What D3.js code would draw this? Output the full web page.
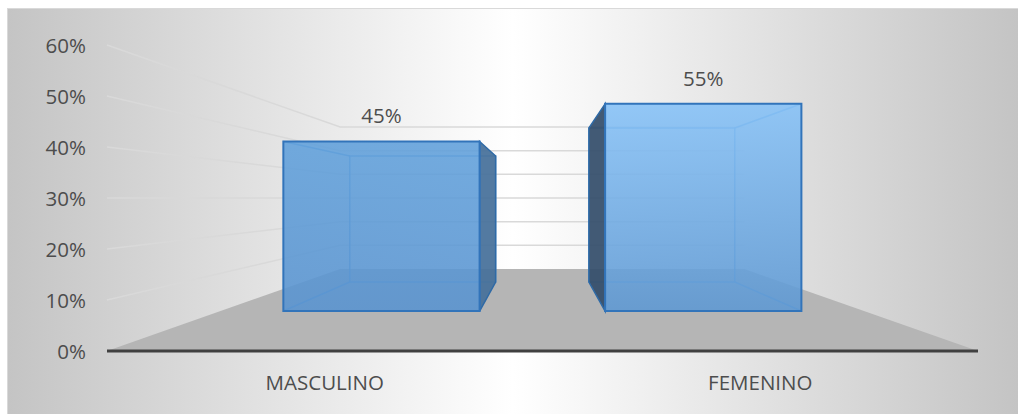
<!DOCTYPE html>
<html>
<head>
<meta charset="utf-8">
<script src="https://cdn.jsdelivr.net/npm/d3@7"></script>
<style>
  html, body { margin: 0; padding: 0; background: #ffffff; }
  svg { display: block; }
  text { font-family: "Open Sans", "Noto Sans", sans-serif; fill: #4d4d4d; }
</style>
</head>
<body>
<svg id="chart" width="1018" height="414"></svg>
<script>
// Data
const categories = ["MASCULINO", "FEMENINO"];
const values = [0.45, 0.55];
const valueLabels = ["45%", "55%"];
const tickValues = [0, 0.1, 0.2, 0.3, 0.4, 0.5, 0.6];
const tickLabels = ["0%", "10%", "20%", "30%", "40%", "50%", "60%"];

const W = 1018, H = 414;
const svg = d3.select("#chart");
const defs = svg.append("defs");

// Chart area background: soft grey edges, white centre
const bg = defs.append("linearGradient").attr("id", "bgGrad")
  .attr("gradientUnits", "userSpaceOnUse")
  .attr("x1", 7).attr("y1", 0).attr("x2", W).attr("y2", 0);
bg.append("stop").attr("offset", 0).attr("stop-color", "#c4c4c4");
bg.append("stop").attr("offset", 0.5).attr("stop-color", "#ffffff");
bg.append("stop").attr("offset", 1).attr("stop-color", "#c4c4c4");

svg.append("rect")
  .attr("x", 7.5).attr("y", 8.5).attr("width", W).attr("height", H)
  .attr("fill", "url(#bgGrad)")
  .attr("stroke", "#d9d9d9").attr("stroke-width", 1);

// Front-plane scales
const x = d3.scaleBand().domain(categories).range([107, 978])
  .paddingInner(0.39).paddingOuter(0.195);
const y = d3.scaleLinear().domain([0, 0.6]).range([351, 45]);

// Perspective projection: z = 0 front of floor, z = 1 back wall
const vx = 542, vy = y(0.3), depthK = 1.155;
function proj(X, Y, z) {
  const s = 1 / (1 + depthK * z);
  return [vx + (X - vx) * s, vy + (Y - vy) * s];
}
const X0 = x.range()[0], X1 = x.range()[1];
const line = d3.line();

// Floor
svg.append("path")
  .attr("d", line([proj(X0, y(0), 0), proj(X0, y(0), 1), proj(X1, y(0), 1), proj(X1, y(0), 0)]) + "Z")
  .attr("fill", "#b5b5b5");

// Gridlines on left wall and back wall
const grid = svg.append("g").attr("fill", "none").attr("stroke", "#d9d9d9").attr("stroke-width", 1.5);
tickValues.filter(t => t > 0).forEach(t => {
  grid.append("path").attr("d", line([proj(X0, y(t), 0), proj(X0, y(t), 1), proj(X1, y(t), 1)]));
});

// Bar shading, one gradient per bar
const barShades = [
  { top: "#60a0db", bottom: "#5893d0" },
  { top: "#85c1f7", bottom: "#5d98d3" }
];
barShades.forEach((c, i) => {
  const g = defs.append("linearGradient").attr("id", "barGrad" + i)
    .attr("x1", 0).attr("y1", 0).attr("x2", 0).attr("y2", 1);
  g.append("stop").attr("offset", 0).attr("stop-color", c.top);
  g.append("stop").attr("offset", 1).attr("stop-color", c.bottom);
});

const zFront = 0.306, zBack = 0.711;
const bars = svg.append("g");
categories.forEach((cat, i) => {
  const L = x(cat), R = x(cat) + x.bandwidth();
  const T = y(values[i]), B = y(0);
  const f = { lt: proj(L, T, zFront), rt: proj(R, T, zFront), rb: proj(R, B, zFront), lb: proj(L, B, zFront) };
  const b = { lt: proj(L, T, zBack), rt: proj(R, T, zBack), rb: proj(R, B, zBack), lb: proj(L, B, zBack) };
  const g = bars.append("g");

  // Back face and hidden connecting edges, seen through the glass
  const inner = g.append("g").attr("fill", "none").attr("stroke", "#5a9ad8").attr("stroke-width", 1.5).attr("stroke-opacity", 0.8);
  inner.append("path").attr("d", line([b.lt, b.rt, b.rb, b.lb]) + "Z");
  const rightVisible = R < vx;
  if (rightVisible) {
    inner.append("path").attr("d", line([f.lt, b.lt]));
    inner.append("path").attr("d", line([f.lb, b.lb]));
  } else {
    inner.append("path").attr("d", line([f.rt, b.rt]));
    inner.append("path").attr("d", line([f.rb, b.rb]));
  }

  // Visible side face
  const side = rightVisible ? [f.rt, b.rt, b.rb, f.rb] : [f.lt, b.lt, b.lb, f.lb];
  g.append("path").attr("d", line(side) + "Z")
    .attr("fill", rightVisible ? "#46709a" : "#344e6b")
    .attr("fill-opacity", 0.93)
    .attr("stroke", "#2f6aa6").attr("stroke-width", 1.5);

  // Front face
  g.append("path").attr("d", line([f.lt, f.rt, f.rb, f.lb]) + "Z")
    .attr("fill", "url(#barGrad" + i + ")")
    .attr("fill-opacity", 0.88)
    .attr("stroke", "#3274ba").attr("stroke-width", 2);

  // Value label
  svg.append("text")
    .attr("x", (f.lt[0] + f.rt[0]) / 2).attr("y", f.lt[1] - 18)
    .attr("text-anchor", "middle").attr("font-size", 20.5)
    .text(valueLabels[i]);
});

// Category axis line
svg.append("path")
  .attr("d", line([[X0, y(0)], [X1, y(0)]]))
  .attr("stroke", "#404040").attr("stroke-width", 3);

// Value axis labels
svg.append("g").selectAll("text").data(tickValues).join("text")
  .attr("x", 86).attr("y", (d) => y(d) + 7.5)
  .attr("text-anchor", "end").attr("font-size", 20.5)
  .text((d, i) => tickLabels[i]);

// Category labels
svg.append("g").selectAll("text").data(categories).join("text")
  .attr("x", d => x(d) + x.bandwidth() / 2).attr("y", 389.5)
  .attr("text-anchor", "middle").attr("font-size", 20.5)
  .text(d => d);
</script>
</body>
</html>
